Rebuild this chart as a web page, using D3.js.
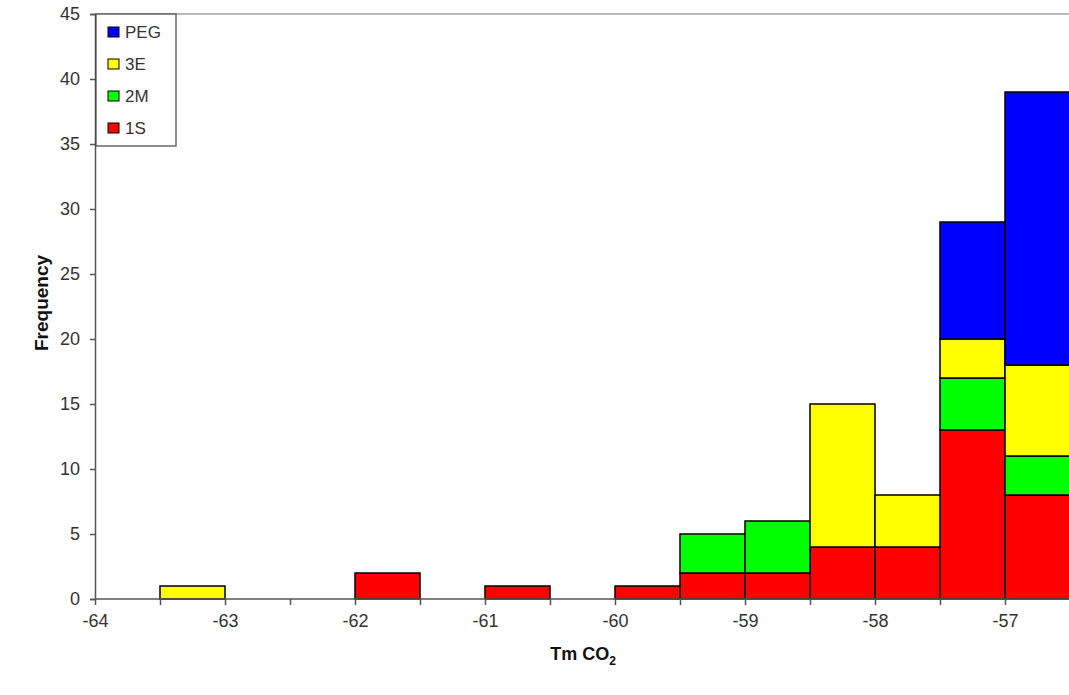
<!DOCTYPE html>
<html><head><meta charset="utf-8">
<script src="https://cdn.jsdelivr.net/npm/d3@7"></script>
<style>body{margin:0;background:#fff}svg{display:block}</style>
</head><body>
<svg id="c" width="1069" height="695"></svg>
<script>
// bin left edges (bin width 0.5)
const binStarts = [-64,-63.5,-63,-62.5,-62,-61.5,-61,-60.5,-60,-59.5,-59,-58.5,-58,-57.5,-57];
const binWidth = 0.5;
const s1S  = [0,0,0,0,2,0,1,0,1,2,2,4,4,13,8];
const s2M  = [0,0,0,0,0,0,0,0,0,3,4,0,0,4,3];
const s3E  = [0,1,0,0,0,0,0,0,0,0,0,11,4,3,7];
const sPEG = [0,0,0,0,0,0,0,0,0,0,0,0,0,9,21];
const seriesNames = ["1S","2M","3E","PEG"];
const seriesColors = ["#ff0000","#00ff00","#ffff00","#0000ff"];
const xTickValues = [-64,-63.5,-63,-62.5,-62,-61.5,-61,-60.5,-60,-59.5,-59,-58.5,-58,-57.5,-57];
const xLabelValues = [-64,-63,-62,-61,-60,-59,-58,-57];
const yTickValues = [0,5,10,15,20,25,30,35,40,45];

const svg = d3.select("#c");
const x = d3.scaleLinear().domain([-64,-56.5]).range([95,1070]);
const y = d3.scaleLinear().domain([0,45]).range([599,14]);

const rows = binStarts.map((b,i)=>({b, "1S":s1S[i], "2M":s2M[i], "3E":s3E[i], "PEG":sPEG[i]}));
const stack = d3.stack().keys(seriesNames)(rows);

// top border
svg.append("line").attr("x1",x(-64)).attr("x2",1069).attr("y1",y(45)).attr("y2",y(45))
  .attr("stroke","#a0a0a0").attr("stroke-width",1.5);

stack.forEach((layer,k)=>{
  svg.append("g").selectAll("rect").data(layer.filter(d=>d[1]-d[0]>0)).enter().append("rect")
    .attr("x",d=>x(d.data.b)).attr("width",d=>x(d.data.b+binWidth)-x(d.data.b))
    .attr("y",d=>y(d[1])).attr("height",d=>y(d[0])-y(d[1]))
    .attr("fill",seriesColors[k]).attr("stroke","#000").attr("stroke-width",1.5);
});

const fontFam = "Arial, 'Liberation Sans', sans-serif";
// y axis
const ya = svg.append("g").attr("transform",`translate(${x(-64)},0)`)
  .call(d3.axisLeft(y).tickValues(yTickValues).tickSize(5).tickPadding(10));
// x axis
const xa = svg.append("g").attr("transform",`translate(0,${y(0)})`)
  .call(d3.axisBottom(x).tickValues(xTickValues).tickSize(6).tickPadding(9)
    .tickFormat(d=> xLabelValues.includes(d) ? d3.format("")(d).replace("−","-") : ""));
[ya,xa].forEach(a=>{
  a.select(".domain").attr("stroke","#555").attr("stroke-width",1.5);
  a.selectAll(".tick line").attr("stroke","#555").attr("stroke-width",1.5);
  a.selectAll("text").attr("font-family",fontFam).attr("font-size",18).attr("fill","#333");
});
xa.select(".domain").attr("d",`M${x(-64)},0H1069`);

// axis titles
const xt = svg.append("text").attr("x",583).attr("y",660).attr("text-anchor","middle")
  .attr("font-family",fontFam).attr("font-size",18).attr("font-weight","bold").attr("fill","#111");
xt.append("tspan").text("Tm CO");
xt.append("tspan").text("2").attr("font-size",12).attr("dy",5);
svg.append("text").attr("transform","translate(41,303) rotate(-90)").attr("text-anchor","middle")
  .attr("dominant-baseline","central")
  .attr("font-family",fontFam).attr("font-size",19).attr("font-weight","bold").attr("fill","#111")
  .text("Frequency");

// legend
const lg = svg.append("g");
lg.append("rect").attr("x",96).attr("y",14).attr("width",80).attr("height",132)
  .attr("fill","#fff").attr("stroke","#444").attr("stroke-width",1.2);
const legendOrder = ["PEG","3E","2M","1S"];
legendOrder.forEach((n,i)=>{
  const k = seriesNames.indexOf(n);
  const cy = 32 + i*32;
  lg.append("rect").attr("x",108).attr("y",cy-5).attr("width",11).attr("height",10)
    .attr("fill",seriesColors[k]).attr("stroke","#000").attr("stroke-width",1);
  lg.append("text").attr("x",125).attr("y",cy+6).attr("font-family",fontFam)
    .attr("font-size",17).attr("fill","#333").text(n);
});
</script>
</body></html>
